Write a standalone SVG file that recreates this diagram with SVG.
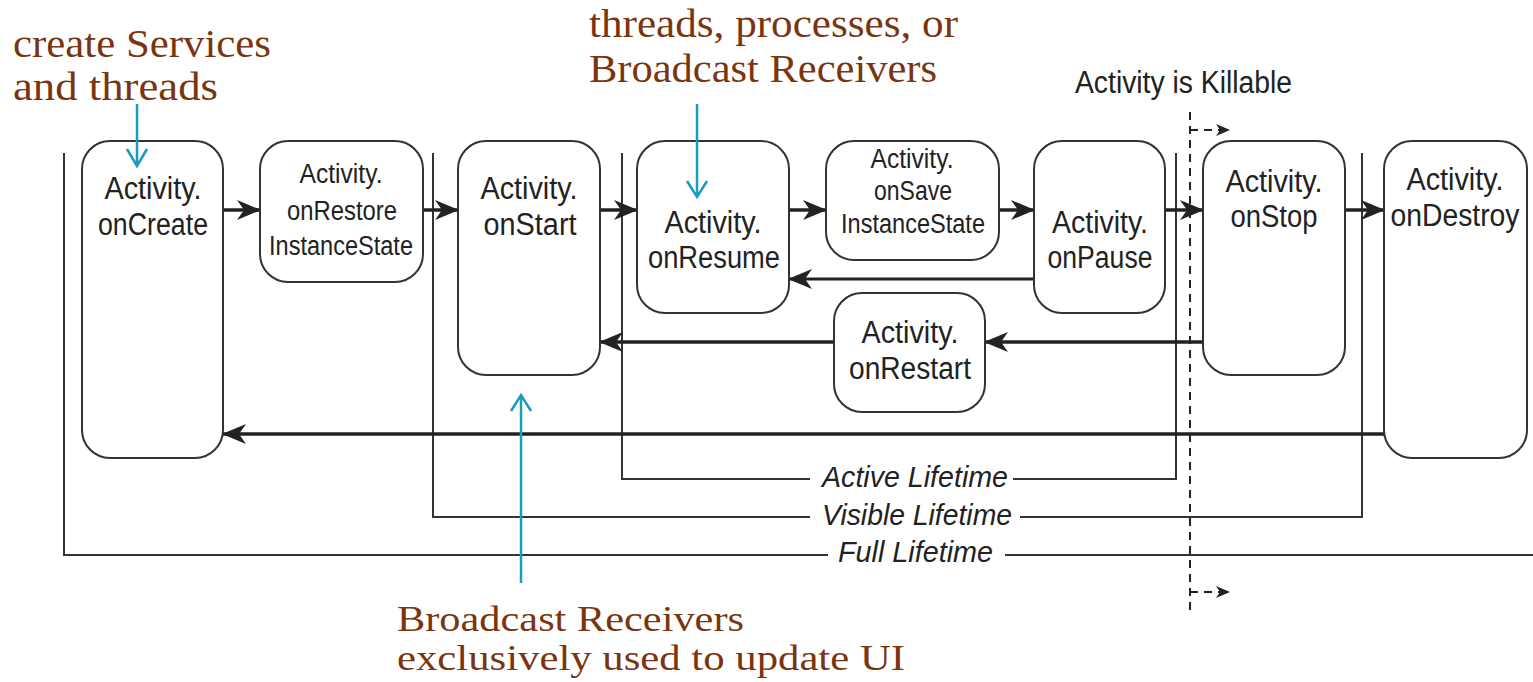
<svg xmlns="http://www.w3.org/2000/svg" width="1533" height="682" viewBox="0 0 1533 682">
<defs>
<style>
.box{fill:#fff;stroke:#333;stroke-width:2}
.t{font-family:"Liberation Sans Narrow","Liberation Sans",Arial,sans-serif;font-size:31px;fill:#222;text-anchor:middle}
.ts{font-family:"Liberation Sans Narrow","Liberation Sans",Arial,sans-serif;font-size:27px;fill:#222;text-anchor:middle}
.life{font-family:"Liberation Sans Narrow","Liberation Sans",Arial,sans-serif;font-size:30px;font-style:italic;fill:#222}
.note{font-family:"Liberation Serif","Times New Roman",serif;font-size:39px;fill:#7a3510}
.lt{fill:none;stroke:#333;stroke-width:2}
.ar{fill:none;stroke:#222;stroke-width:3.5;marker-end:url(#ah)}
.teal{fill:none;stroke:#1a9bc2;stroke-width:2.5}
.dash{fill:none;stroke:#222;stroke-width:2;stroke-dasharray:8 6}
</style>
<marker id="ah" viewBox="0 0 24 20" refX="23" refY="10" markerWidth="24" markerHeight="20" markerUnits="userSpaceOnUse" orient="auto">
<path d="M0,0 L24,10 L0,20 L7,10 Z" fill="#222"/>
</marker>
<marker id="ahs" viewBox="0 0 14 12" refX="13" refY="6" markerWidth="14" markerHeight="12" markerUnits="userSpaceOnUse" orient="auto">
<path d="M0,0 L14,6 L0,12 L4,6 Z" fill="#222"/>
</marker>
</defs>
<rect width="1533" height="682" fill="#fff"/>

<g id="lifetimes">
<path class="lt" d="M64,153 V555 H828 M1005,555 H1533"/>
<path class="lt" d="M433,153 V517 H810 M1020,517 H1362 V153"/>
<path class="lt" d="M622,153 V479 H810 M1013,479 H1176 V153"/>
<text class="life" x="822" y="487" textLength="186" lengthAdjust="spacingAndGlyphs">Active Lifetime</text>
<text class="life" x="822" y="525" textLength="190" lengthAdjust="spacingAndGlyphs">Visible Lifetime</text>
<text class="life" x="838" y="562" textLength="155" lengthAdjust="spacingAndGlyphs">Full Lifetime</text>
</g>

<g id="killable">
<text x="1075" y="93" textLength="217" lengthAdjust="spacingAndGlyphs" style="font-family:'Liberation Sans Narrow','Liberation Sans',Arial,sans-serif;font-size:31px;fill:#222">Activity is Killable</text>
<path class="dash" d="M1190,112 V612"/>
<path class="dash" d="M1190,130 H1229" style="marker-end:url(#ahs)"/>
<path class="dash" d="M1190,592 H1229" style="marker-end:url(#ahs)"/>
</g>

<g id="connectors">
<path class="ar" d="M223,210 H260"/>
<path class="ar" d="M423,210 H458"/>
<path class="ar" d="M600,210 H637"/>
<path class="ar" d="M789,210 H826"/>
<path class="ar" d="M999,210 H1034"/>
<path class="ar" d="M1165,210 H1203"/>
<path class="ar" d="M1345,210 H1384"/>
<path class="ar" d="M1034,279 H789" style="stroke-width:3"/>
<path class="ar" d="M1203,342 H985"/>
<path class="ar" d="M834,342 H600"/>
<path class="ar" d="M1384,434 H223"/>
</g>

<g id="onCreate">
<rect class="box" x="82" y="141" width="141" height="317" rx="28"/>
<text class="t" x="153" y="199" textLength="97" lengthAdjust="spacingAndGlyphs">Activity.</text>
<text class="t" x="153" y="235" textLength="110" lengthAdjust="spacingAndGlyphs">onCreate</text>
</g>
<g id="onRestoreInstanceState">
<rect class="box" x="260" y="141" width="163" height="141" rx="28"/>
<text class="ts" x="341" y="183" textLength="83" lengthAdjust="spacingAndGlyphs">Activity.</text>
<text class="ts" x="342" y="220" textLength="110" lengthAdjust="spacingAndGlyphs">onRestore</text>
<text class="ts" x="341" y="255" textLength="144" lengthAdjust="spacingAndGlyphs">InstanceState</text>
</g>
<g id="onStart">
<rect class="box" x="458" y="141" width="142" height="234" rx="28"/>
<text class="t" x="529" y="199" textLength="97" lengthAdjust="spacingAndGlyphs">Activity.</text>
<text class="t" x="530" y="235" textLength="93" lengthAdjust="spacingAndGlyphs">onStart</text>
</g>
<g id="onResume">
<rect class="box" x="637" y="141" width="152" height="172" rx="28"/>
<text class="t" x="713" y="233" textLength="97" lengthAdjust="spacingAndGlyphs">Activity.</text>
<text class="t" x="714" y="268" textLength="132" lengthAdjust="spacingAndGlyphs">onResume</text>
</g>
<g id="onSaveInstanceState">
<rect class="box" x="826" y="141" width="173" height="119" rx="28"/>
<text class="ts" x="912" y="168" textLength="83" lengthAdjust="spacingAndGlyphs">Activity.</text>
<text class="ts" x="913" y="200" textLength="78" lengthAdjust="spacingAndGlyphs">onSave</text>
<text class="ts" x="913" y="233" textLength="144" lengthAdjust="spacingAndGlyphs">InstanceState</text>
</g>
<g id="onPause">
<rect class="box" x="1034" y="141" width="131" height="172" rx="28"/>
<text class="t" x="1100" y="233" textLength="96" lengthAdjust="spacingAndGlyphs">Activity.</text>
<text class="t" x="1100" y="268" textLength="105" lengthAdjust="spacingAndGlyphs">onPause</text>
</g>
<g id="onRestart">
<rect class="box" x="834" y="293" width="151" height="119" rx="28"/>
<text class="t" x="910" y="343" textLength="97" lengthAdjust="spacingAndGlyphs">Activity.</text>
<text class="t" x="910" y="379" textLength="122" lengthAdjust="spacingAndGlyphs">onRestart</text>
</g>
<g id="onStop">
<rect class="box" x="1203" y="141" width="142" height="234" rx="28"/>
<text class="t" x="1274" y="192" textLength="97" lengthAdjust="spacingAndGlyphs">Activity.</text>
<text class="t" x="1274" y="227" textLength="87" lengthAdjust="spacingAndGlyphs">onStop</text>
</g>
<g id="onDestroy">
<rect class="box" x="1384" y="141" width="143" height="317" rx="28"/>
<text class="t" x="1455" y="190" textLength="97" lengthAdjust="spacingAndGlyphs">Activity.</text>
<text class="t" x="1455" y="226" textLength="129" lengthAdjust="spacingAndGlyphs">onDestroy</text>
</g>

<g id="notes">
<text class="note" x="13" y="57" textLength="258" lengthAdjust="spacingAndGlyphs">create Services</text>
<text class="note" x="13" y="100" textLength="205" lengthAdjust="spacingAndGlyphs">and threads</text>
<path class="teal" d="M137,104 V166 M127,149 L137,166 L147,149"/>
<text class="note" x="589" y="37" textLength="369" lengthAdjust="spacingAndGlyphs">threads, processes, or</text>
<text class="note" x="589" y="82" textLength="348" lengthAdjust="spacingAndGlyphs">Broadcast Receivers</text>
<path class="teal" d="M697,104 V197 M687,181 L697,197 L707,181"/>
<text class="note" x="397" y="631" textLength="347" lengthAdjust="spacingAndGlyphs" style="font-size:36px">Broadcast Receivers</text>
<text class="note" x="397" y="670" textLength="508" lengthAdjust="spacingAndGlyphs" style="font-size:36px">exclusively used to update UI</text>
<path class="teal" d="M521,583 V395 M511,411 L521,395 L531,411"/>
</g>
</svg>
